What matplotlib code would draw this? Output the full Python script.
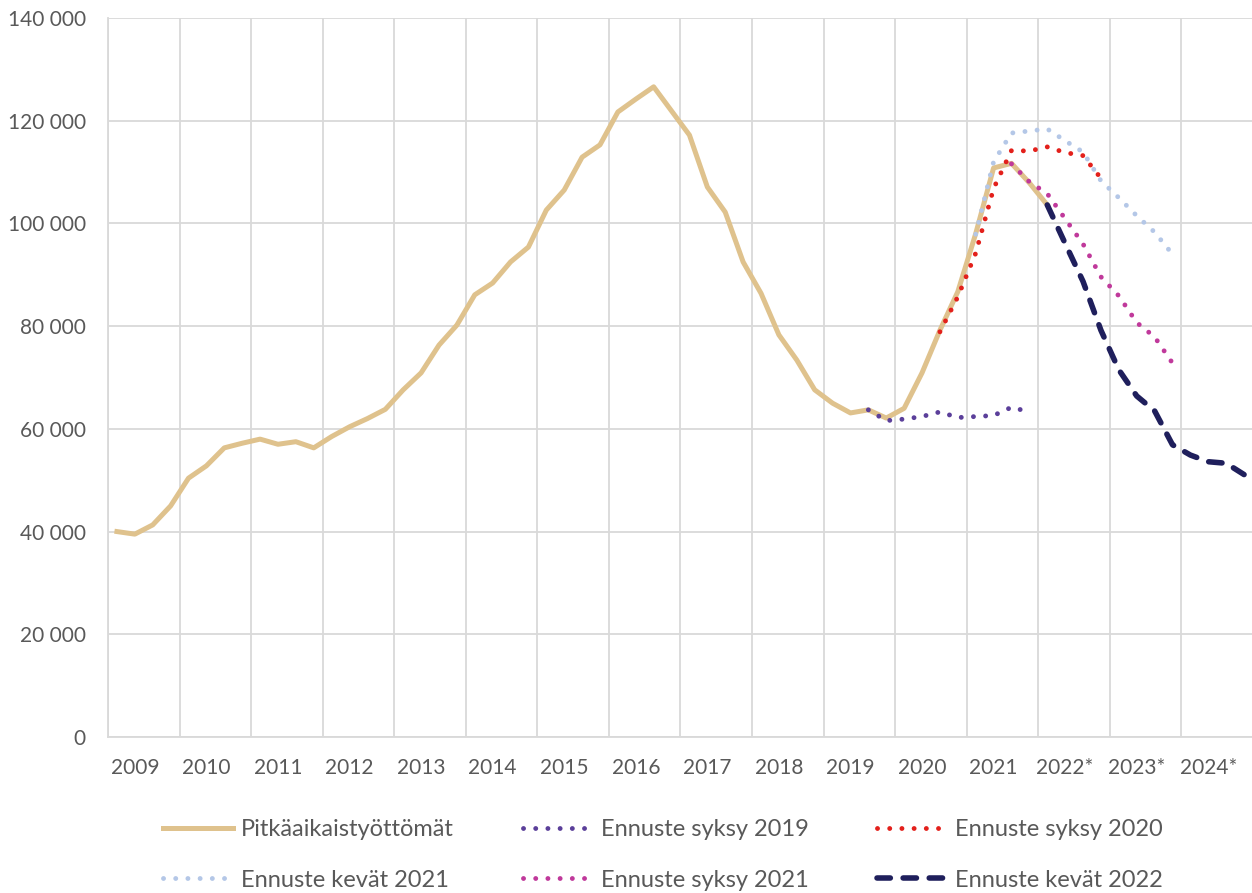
import numpy as np
import matplotlib.pyplot as plt

plt.rcParams['font.family'] = ['Lato', 'DejaVu Sans']

# quarterly data 2009Q1 .. 2024Q4, one tick label per year
years = ['2009', '2010', '2011', '2012', '2013', '2014', '2015', '2016',
         '2017', '2018', '2019', '2020', '2021', '2022*', '2023*', '2024*']

# long-term unemployed, from 2009Q1
pitkaaikais = [40000, 39500, 41300, 45000, 50400, 52800, 56300, 57200,
               58000, 57000, 57500, 56300, 58500, 60400, 62000, 63800,
               67600, 70900, 76300, 80200, 86100, 88400, 92500, 95400,
               102600, 106500, 112900, 115300, 121700, 124200, 126600, 121900,
               117200, 107100, 102200, 92500, 86400, 78300, 73400, 67600,
               65000, 63100, 63700, 62100, 64000, 70900, 79200, 86700,
               98000, 110800, 111700, 107900, 103600]

# forecasts: first quarter index (0 = 2009Q1) and values
syksy_2019_start = 42
syksy_2019 = [63700, 61600, 61900, 62400, 63300, 62200, 62400, 62600, 64200, 63300]

syksy_2020_start = 46
syksy_2020 = [78900, 85700, 94200, 106800, 114200, 114100, 114900, 113800, 113200, 108800]

kevat_2021_start = 48
kevat_2021 = [97900, 112000, 117600, 118000, 118400, 116100, 113900, 108300,
              105000, 101500, 98300, 94000]

syksy_2021_start = 50
syksy_2021 = [111600, 108100, 105800, 100900, 96000, 89600, 85900, 80700, 77900, 72800]

kevat_2022_start = 52
kevat_2022 = [103600, 96100, 88700, 79200, 71500, 66400, 63500, 56900,
              54900, 53600, 53300, 51100]

grey = '#595959'
grid_col = '#D9D9D9'

fig = plt.figure(figsize=(12.52, 8.93), dpi=100)
ax = fig.add_axes([108 / 1252, 1 - 737 / 893, 1145 / 1252, 719 / 893])

dots = (0, (0.01, 2.5))
dash = (0, (2.4, 2.3))


def quarters(start, values):
    return np.arange(start, start + len(values))


l_main, = ax.plot(quarters(0, pitkaaikais), pitkaaikais, color='#DFC28D', lw=3.6,
                  solid_joinstyle='round', label='Pitkäaikaistyöttömät')
l19, = ax.plot(quarters(syksy_2019_start, syksy_2019), syksy_2019, color='#5B3F9A',
               lw=3.5, ls=dots, dash_capstyle='round', label='Ennuste syksy 2019')
l20, = ax.plot(quarters(syksy_2020_start, syksy_2020), syksy_2020, color='#E3201B',
               lw=3.5, ls=dots, dash_capstyle='round', label='Ennuste syksy 2020')
lk21, = ax.plot(quarters(kevat_2021_start, kevat_2021), kevat_2021, color='#B4C7E7',
                lw=3.5, ls=dots, dash_capstyle='round', label='Ennuste kevät 2021')
ls21, = ax.plot(quarters(syksy_2021_start, syksy_2021), syksy_2021, color='#C0399B',
                lw=3.5, ls=dots, dash_capstyle='round', label='Ennuste syksy 2021')
lk22, = ax.plot(quarters(kevat_2022_start, kevat_2022), kevat_2022, color='#1F1F5C',
                lw=4.0, ls=dash, dash_capstyle='round', solid_joinstyle='round',
                label='Ennuste kevät 2022')

n = 4 * len(years)
ax.set_xlim(-0.5, n - 0.5)
ax.set_ylim(0, 140000)
ax.set_yticks(np.arange(0, 140001, 20000))
ax.yaxis.set_major_formatter(lambda v, p: f'{int(v):,}'.replace(',', ' '))
ax.set_xticks(np.arange(1, n, 4))
ax.set_xticklabels(years)
ax.set_xticks(np.arange(-0.5, n, 4), minor=True)

ax.grid(axis='y', color=grid_col, lw=1.3)
ax.grid(axis='x', which='minor', color=grid_col, lw=1.3)
ax.set_axisbelow(True)
for s in ['top', 'right']:
    ax.spines[s].set_visible(False)
for s in ['left', 'bottom']:
    ax.spines[s].set_color(grid_col)
    ax.spines[s].set_linewidth(1.3)
ax.tick_params(axis='both', which='both', length=0, labelsize=15, labelcolor=grey)
ax.tick_params(axis='y', pad=16)
ax.tick_params(axis='x', pad=15)

handles = [l_main, lk21, l19, ls21, l20, lk22]
fig.legend(handles=handles, labels=[h.get_label() for h in handles], ncol=3,
           loc='center', bbox_to_anchor=(663 / 1252, 1 - 855 / 893), frameon=False,
           fontsize=17, labelcolor=grey, handlelength=2.95, handletextpad=0.35,
           columnspacing=2.9, labelspacing=1.25)

fig.savefig('out.png', dpi=100)
